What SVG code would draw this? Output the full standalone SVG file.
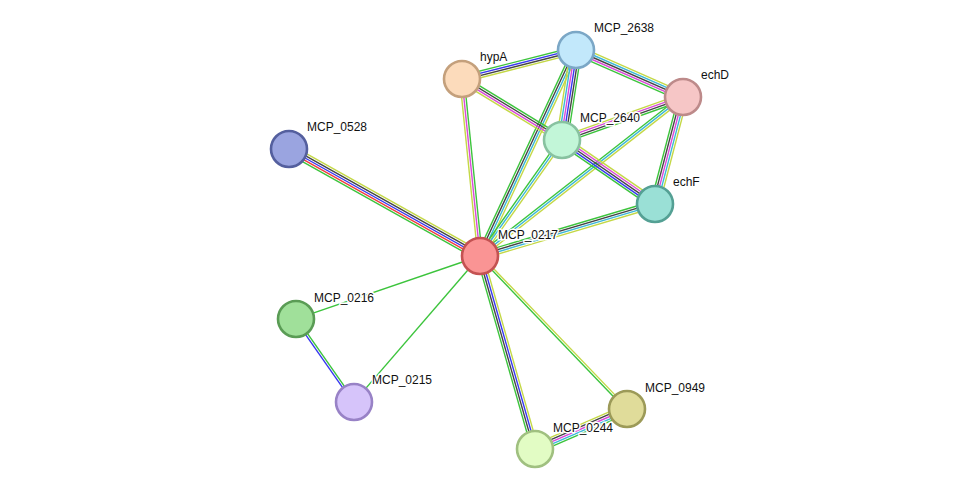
<svg xmlns="http://www.w3.org/2000/svg" width="976" height="495" viewBox="0 0 976 495">
<style>
line{stroke-width:1.4;fill:none}
.g{stroke:#3cc43c}.k{stroke:#444}.b{stroke:#3838f0}.r{stroke:#f03c3c}.m{stroke:#d94ad9}.c{stroke:#3cb8d8}.y{stroke:#c4d846}
circle{stroke-width:2.6}
text{font-family:"Liberation Sans",Arial,sans-serif;font-size:12px;fill:#111;stroke:#fff;stroke-width:3;paint-order:stroke;stroke-linejoin:round}
</style>
<rect width="976" height="495" fill="#fff"/>
<g id="edges">
<g transform="translate(289,149) rotate(29.26)"><line class="y" x2="219" y1="-4.4" y2="-4.4"/><line class="k" x2="219" y1="-2.2" y2="-2.2"/><line class="b" x2="219"/><line class="r" x2="219" y1="2.2" y2="2.2"/><line class="g" x2="219" y1="4.4" y2="4.4"/></g>
<g transform="translate(480,256) rotate(-95.81)"><line class="y" x2="178" y1="-2.2" y2="-2.2"/><line class="m" x2="178"/><line class="g" x2="178" y1="2.2" y2="2.2"/></g>
<g transform="translate(480,256) rotate(-65.02)"><line class="g" x2="227" y1="-3.3" y2="-3.3"/><line class="k" x2="227" y1="-1.1" y2="-1.1"/><line class="c" x2="227" y1="1.1" y2="1.1"/><line class="y" x2="227" y1="3.3" y2="3.3"/></g>
<g transform="translate(480,256) rotate(-54.74)"><line class="g" x2="142" y1="-2.2" y2="-2.2"/><line class="c" x2="142"/><line class="y" x2="142" y1="2.2" y2="2.2"/></g>
<g transform="translate(480,256) rotate(-38.07)"><line class="g" x2="258" y1="-2.2" y2="-2.2"/><line class="c" x2="258"/><line class="y" x2="258" y1="2.2" y2="2.2"/></g>
<g transform="translate(480,256) rotate(-16.55)"><line class="g" x2="183" y1="-3.3" y2="-3.3"/><line class="k" x2="183" y1="-1.1" y2="-1.1"/><line class="c" x2="183" y1="1.1" y2="1.1"/><line class="y" x2="183" y1="3.3" y2="3.3"/></g>
<g transform="translate(480,256) rotate(161.1)"><line class="g" x2="195"/></g>
<g transform="translate(480,256) rotate(130.8)"><line class="g" x2="193"/></g>
<g transform="translate(480,256) rotate(74.09)"><line class="y" x2="201" y1="-3.3" y2="-3.3"/><line class="b" x2="201" y1="-1.1" y2="-1.1"/><line class="k" x2="201" y1="1.1" y2="1.1"/><line class="g" x2="201" y1="3.3" y2="3.3"/></g>
<g transform="translate(480,256) rotate(46.15)"><line class="y" x2="212" y1="-1.1" y2="-1.1"/><line class="g" x2="212" y1="1.1" y2="1.1"/></g>
<g transform="translate(296,319) rotate(55.06)"><line class="g" x2="101" y1="-1.1" y2="-1.1"/><line class="b" x2="101" y1="1.1" y2="1.1"/></g>
<g transform="translate(627,409) rotate(156.5)"><line class="g" x2="100" y1="-4.4" y2="-4.4"/><line class="c" x2="100" y1="-2.2" y2="-2.2"/><line class="m" x2="100"/><line class="k" x2="100" y1="2.2" y2="2.2"/><line class="y" x2="100" y1="4.4" y2="4.4"/></g>
<g transform="translate(462,79) rotate(-14.27)"><line class="g" x2="118" y1="-3.3" y2="-3.3"/><line class="b" x2="118" y1="-1.1" y2="-1.1"/><line class="k" x2="118" y1="1.1" y2="1.1"/><line class="y" x2="118" y1="3.3" y2="3.3"/></g>
<g transform="translate(462,79) rotate(31.38)"><line class="g" x2="117" y1="-3.3" y2="-3.3"/><line class="k" x2="117" y1="-1.1" y2="-1.1"/><line class="m" x2="117" y1="1.1" y2="1.1"/><line class="y" x2="117" y1="3.3" y2="3.3"/></g>
<g transform="translate(576,50) rotate(98.84)"><line class="g" x2="91" y1="-5.5" y2="-5.5"/><line class="k" x2="91" y1="-3.3" y2="-3.3"/><line class="b" x2="91" y1="-1.1" y2="-1.1"/><line class="m" x2="91" y1="1.1" y2="1.1"/><line class="c" x2="91" y1="3.3" y2="3.3"/><line class="y" x2="91" y1="5.5" y2="5.5"/></g>
<g transform="translate(576,50) rotate(23.71)"><line class="y" x2="117" y1="-4.4" y2="-4.4"/><line class="c" x2="117" y1="-2.2" y2="-2.2"/><line class="k" x2="117"/><line class="m" x2="117" y1="2.2" y2="2.2"/><line class="g" x2="117" y1="4.4" y2="4.4"/></g>
<g transform="translate(562,140) rotate(-19.56)"><line class="y" x2="128" y1="-3.3" y2="-3.3"/><line class="m" x2="128" y1="-1.1" y2="-1.1"/><line class="k" x2="128" y1="1.1" y2="1.1"/><line class="g" x2="128" y1="3.3" y2="3.3"/></g>
<g transform="translate(562,140) rotate(34.53)"><line class="y" x2="113" y1="-4.4" y2="-4.4"/><line class="m" x2="113" y1="-2.2" y2="-2.2"/><line class="k" x2="113"/><line class="b" x2="113" y1="2.2" y2="2.2"/><line class="g" x2="113" y1="4.4" y2="4.4"/></g>
<g transform="translate(683,97) rotate(104.67)"><line class="y" x2="111" y1="-4.4" y2="-4.4"/><line class="c" x2="111" y1="-2.2" y2="-2.2"/><line class="m" x2="111"/><line class="k" x2="111" y1="2.2" y2="2.2"/><line class="g" x2="111" y1="4.4" y2="4.4"/></g>
</g>
<g id="MCP_2638"><circle cx="576" cy="50" r="18" fill="#c2e8fb" stroke="#7ba7c6"/><text x="594" y="32">MCP_2638</text></g>
<g id="hypA"><circle cx="462" cy="79" r="18" fill="#fcdbbb" stroke="#c4a07c"/><text x="480" y="61">hypA</text></g>
<g id="echD"><circle cx="683" cy="97" r="18" fill="#f6c6c6" stroke="#bd8a8a"/><text x="701" y="79">echD</text></g>
<g id="MCP_2640"><circle cx="562" cy="140" r="18" fill="#c2f6d8" stroke="#88c2a0"/><text x="580" y="122">MCP_2640</text></g>
<g id="echF"><circle cx="655" cy="204" r="18" fill="#9ae0d6" stroke="#54a094"/><text x="673" y="186">echF</text></g>
<g id="MCP_0528"><circle cx="289" cy="149" r="18" fill="#9aa4e0" stroke="#545f9e"/><text x="307" y="131">MCP_0528</text></g>
<g id="MCP_0217"><circle cx="480" cy="256" r="18" fill="#fa9494" stroke="#c45252"/><text x="498" y="239">MCP_0217</text></g>
<g id="MCP_0216"><circle cx="296" cy="319" r="18" fill="#a0e09a" stroke="#5a9c55"/><text x="314" y="302">MCP_0216</text></g>
<g id="MCP_0215"><circle cx="354" cy="402" r="18" fill="#d6c4fa" stroke="#9882c6"/><text x="372" y="384">MCP_0215</text></g>
<g id="MCP_0949"><circle cx="627" cy="409" r="18" fill="#e0dc9a" stroke="#9c9a58"/><text x="645" y="392">MCP_0949</text></g>
<g id="MCP_0244"><circle cx="535" cy="449" r="18" fill="#e2fcc4" stroke="#a0c080"/><text x="553" y="432">MCP_0244</text></g>
</svg>
